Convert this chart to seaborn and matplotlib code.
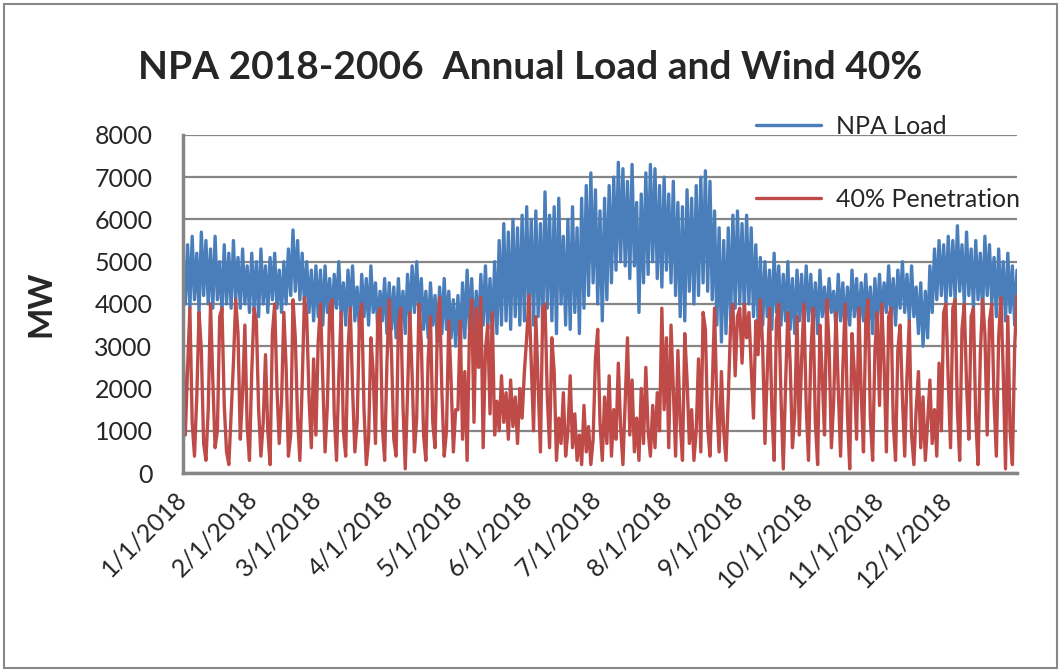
import pandas as pd
import matplotlib.pyplot as plt
import seaborn as sns
from matplotlib.lines import Line2D
from matplotlib.patches import Rectangle

# daily readings (load: alternating daily high / low, MW)
npa_load = [
    5100, 4000, 5400, 3900, 5600, 4100, 5200, 3800, 5700, 4200, 5500, 4000, 5300, 3900, 5600, 4100,
    5000, 3800, 5400, 4000, 5200, 3900, 5500, 4100, 5100, 3900, 5300, 4000, 4900, 3800, 5200,
    3900, 5000, 3700, 5300, 4000, 4900, 3800, 5100, 4100, 5200, 3900, 4800, 3800, 5000,
    4000, 5300, 4200, 5750, 4300, 5500, 4100, 5200, 4000, 5000, 3800, 4800, 3600, 4900,
    3700, 4800, 3500, 4900, 3800, 4600, 3600, 4700, 3900, 5000, 3700, 4500, 3500, 4800, 3800, 4900,
    3600, 4400, 3400, 4700, 3700, 4600, 3500, 4900, 3800, 4500, 3400, 4300, 3600, 4600, 3300,
    4500, 3400, 4400, 3200, 4600, 3500, 4300, 3300, 4700, 3600, 4900, 3800, 5000, 3700, 4600,
    3400, 4300, 3200, 4500, 3500, 4200, 3100, 4400, 3300, 4600, 3400, 4300, 3200, 4100, 3000,
    4200, 2900, 4500, 3200, 4800, 3400, 4600, 3100, 4300, 3300, 4700, 3500, 4900, 3400, 4600, 3200,
    5000, 3300, 5500, 3500, 5900, 3600, 5700, 3400, 6000, 3700, 5800, 3500, 6100, 3600, 6300,
    3800, 6000, 3500, 6200, 3700, 5900, 3400, 6650, 3900, 6100, 3600, 6300, 3300, 6500, 4000,
    5600, 3500, 6000, 3400, 6300, 3800, 5800, 3300, 6500, 3900, 6800, 4200, 7100, 4500, 6700,
    4000, 6200, 3600, 6500, 4100, 6800, 4500, 7000, 4800, 7350, 5000, 7200, 4900, 6900, 4600, 7300,
    4900, 6400, 3800, 6600, 4500, 7100, 4700, 7300, 5000, 7200, 4600, 6800, 4400, 7000, 4800,
    6600, 4500, 6900, 4200, 6400, 3700, 6300, 3600, 6700, 4300, 6500, 4000, 6800, 4200, 7000, 4500,
    7150, 4300, 6900, 4100, 6200, 3500, 5800, 3100, 5500, 3300, 5800, 3600, 6100, 3900, 6200,
    4000, 5900, 3800, 6100, 4000, 5800, 3700, 5400, 3600, 5100, 3500, 5000, 3700, 4800, 3400,
    5200, 3800, 4900, 3500, 4700, 3600, 5000, 3400, 4600, 3300, 4800, 3600, 4700, 3400, 4900,
    3600, 4700, 3500, 4500, 3300, 4800, 3700, 4400, 3500, 4600, 3800, 4300, 3400, 4700, 3600, 4500,
    3300, 4400, 3500, 4800, 3700, 4600, 3400, 4500, 3600, 4700, 3500, 4400, 3300, 4600, 3500,
    4700, 3600, 4500, 3800, 4900, 3700, 4600, 3500, 4800, 3900, 5000, 3800, 4700, 3600, 4900,
    3700, 4400, 3300, 4500, 3000, 4300, 3200, 4900, 3800, 5300, 4100, 5500, 4200, 5400, 4000,
    5600, 4200, 5500, 4100, 5850, 4300, 5400, 4000, 5700, 4200, 5300, 3900, 5500, 4100, 5200, 3800,
    5600, 4200, 5400, 4000, 5100, 3700, 5300, 3900, 5000, 3600, 5200, 3800, 4900, 3500, 4800,
]

wind_40 = [
    3000, 900, 2500, 3900, 1200, 400, 1800, 3800, 2900, 700, 300, 1500, 4000, 2200, 600, 1000,
    3700, 3900, 1600, 500, 200, 1400, 2600, 4100, 3300, 800, 1900, 3500, 1100, 300, 2400,
    3900, 3600, 1500, 400, 1200, 2800, 1000, 200, 3300, 4000, 2000, 700, 1700, 3800,
    2500, 400, 900, 4100, 3200, 1300, 300, 2100, 4150, 3700, 1800, 600, 2700, 900,
    3100, 4000, 2200, 500, 1600, 3900, 4100, 1400, 300, 2300, 3800, 1000, 400, 2900, 3900, 2000,
    500, 1200, 3600, 4000, 1500, 200, 800, 3200, 2400, 700, 3700, 3900, 1100, 300, 2600,
    4100, 2800, 800, 400, 3500, 3900, 1600, 100, 1900, 3800, 2300, 500, 1300, 4000, 3100,
    900, 300, 2700, 3700, 1200, 600, 3400, 4150, 1900, 400, 1000, 3600, 2200, 500, 1500,
    1500, 3600, 800, 2400, 300, 3300, 4100, 1200, 3900, 2500, 4150, 600, 2900, 3500, 1400, 3800,
    900, 1700, 1000, 2300, 1200, 1900, 800, 2200, 1100, 1800, 700, 2000, 1300, 2400, 3200,
    4200, 2600, 1000, 3700, 2100, 500, 3900, 4000, 1800, 600, 3200, 2400, 300, 1300, 700,
    1900, 400, 1000, 2300, 600, 1400, 300, 900, 200, 1600, 500, 1100, 200, 800, 2700,
    3400, 1200, 300, 1800, 700, 2300, 400, 1500, 800, 2600, 1100, 200, 1700, 3200, 900, 2200,
    500, 1300, 300, 2000, 700, 2500, 1000, 400, 1600, 600, 1900, 1000, 3900, 1500, 3200,
    600, 3500, 2000, 400, 2900, 1200, 300, 3300, 2200, 700, 1500, 300, 1000, 2700, 500, 3800,
    3400, 1100, 400, 2000, 3900, 1600, 500, 2400, 1000, 300, 1800, 3500, 4000, 2300, 3700,
    3900, 2600, 4000, 3200, 3800, 2500, 1300, 3600, 2800, 4100, 3000, 700, 2400, 3900, 1500,
    300, 3600, 4000, 1800, 100, 2100, 3800, 2600, 600, 1400, 3700, 900, 2700, 4000, 1600,
    300, 2800, 3900, 1200, 200, 3500, 2300, 900, 4100, 3000, 600, 1700, 3800, 2000, 400, 2500,
    4000, 1400, 100, 3300, 2400, 800, 3900, 1900, 500, 3600, 4100, 1300, 300, 2900, 3800,
    1600, 4000, 2600, 500, 3700, 3900, 1200, 300, 2900, 3500, 1800, 400, 2300, 3600, 900,
    200, 1500, 2400, 600, 1800, 300, 1200, 2200, 700, 1500, 400, 2600, 1000, 3800, 4000,
    2200, 600, 3900, 4100, 1500, 300, 3400, 4000, 2100, 800, 3700, 3900, 1300, 200, 2800, 4100,
    3300, 900, 3600, 4000, 1700, 400, 3200, 4150, 2400, 100, 3700, 1000, 200, 3000, 4200,
]

tick_labels = ['1/1/2018', '2/1/2018', '3/1/2018', '4/1/2018', '5/1/2018', '6/1/2018',
               '7/1/2018', '8/1/2018', '9/1/2018', '10/1/2018', '11/1/2018', '12/1/2018']

load_df = pd.DataFrame({'date': pd.date_range('2018-01-01', periods=len(npa_load), freq='D'),
                        'MW': npa_load})
wind_df = pd.DataFrame({'date': pd.date_range('2018-01-01', periods=len(wind_40), freq='D'),
                        'MW': wind_40})

sns.set_style("white")
plt.rcParams['font.family'] = ['Lato', 'DejaVu Sans']

blue = '#4A7EBB'
red = '#BE4B48'
grid_c = '#868686'

fig = plt.figure(figsize=(10.61, 6.71), dpi=100)
ax = fig.add_axes([0.1725, 0.295, 0.786, 0.504])

sns.lineplot(data=load_df, x='date', y='MW', color=blue, linewidth=2.4, ax=ax, sort=False)
sns.lineplot(data=wind_df, x='date', y='MW', color=red, linewidth=2.4, ax=ax, sort=False)

ax.set_ylim(0, 8000)
ax.set_xlim(pd.Timestamp('2018-01-01'), pd.Timestamp('2018-12-31'))
ax.set_yticks(range(0, 8001, 1000))
ax.yaxis.grid(True, color=grid_c, linewidth=1.6)
ax.xaxis.grid(False)
ax.set_axisbelow(True)

ticks = pd.date_range('2018-01-01', periods=12, freq='MS')
ax.set_xticks(ticks)
ax.set_xticklabels(tick_labels, rotation=45, ha='right', va='center',
                   rotation_mode='anchor', fontsize=18)
ax.tick_params(axis='x', length=0, pad=16)
ax.tick_params(axis='y', length=0, pad=22, labelsize=18)

for s in ['top', 'right']:
    ax.spines[s].set_visible(False)
for s in ['left', 'bottom']:
    ax.spines[s].set_color(grid_c)
    ax.spines[s].set_linewidth(2.5)

ax.set_xlabel('')
ax.set_ylabel('MW', fontsize=24, fontweight='bold', labelpad=28)

fig.suptitle('NPA 2018-2006  Annual Load and Wind 40%', fontsize=28, fontweight='bold',
             x=0.5, y=0.925)

handles = [Line2D([], [], color=blue, linewidth=2.4), Line2D([], [], color=red, linewidth=2.4)]
ax.legend(handles, ['NPA Load', '40% Penetration'], loc='upper left',
          bbox_to_anchor=(0.66, 1.125), frameon=False, fontsize=18,
          handlelength=2.6, handletextpad=0.6, labelspacing=2.0)

fig.add_artist(Rectangle((0.004, 0.004), 0.992, 0.99, transform=fig.transFigure,
                         fill=False, edgecolor='#888888', linewidth=1.5))

fig.savefig('out.png', dpi=100)
